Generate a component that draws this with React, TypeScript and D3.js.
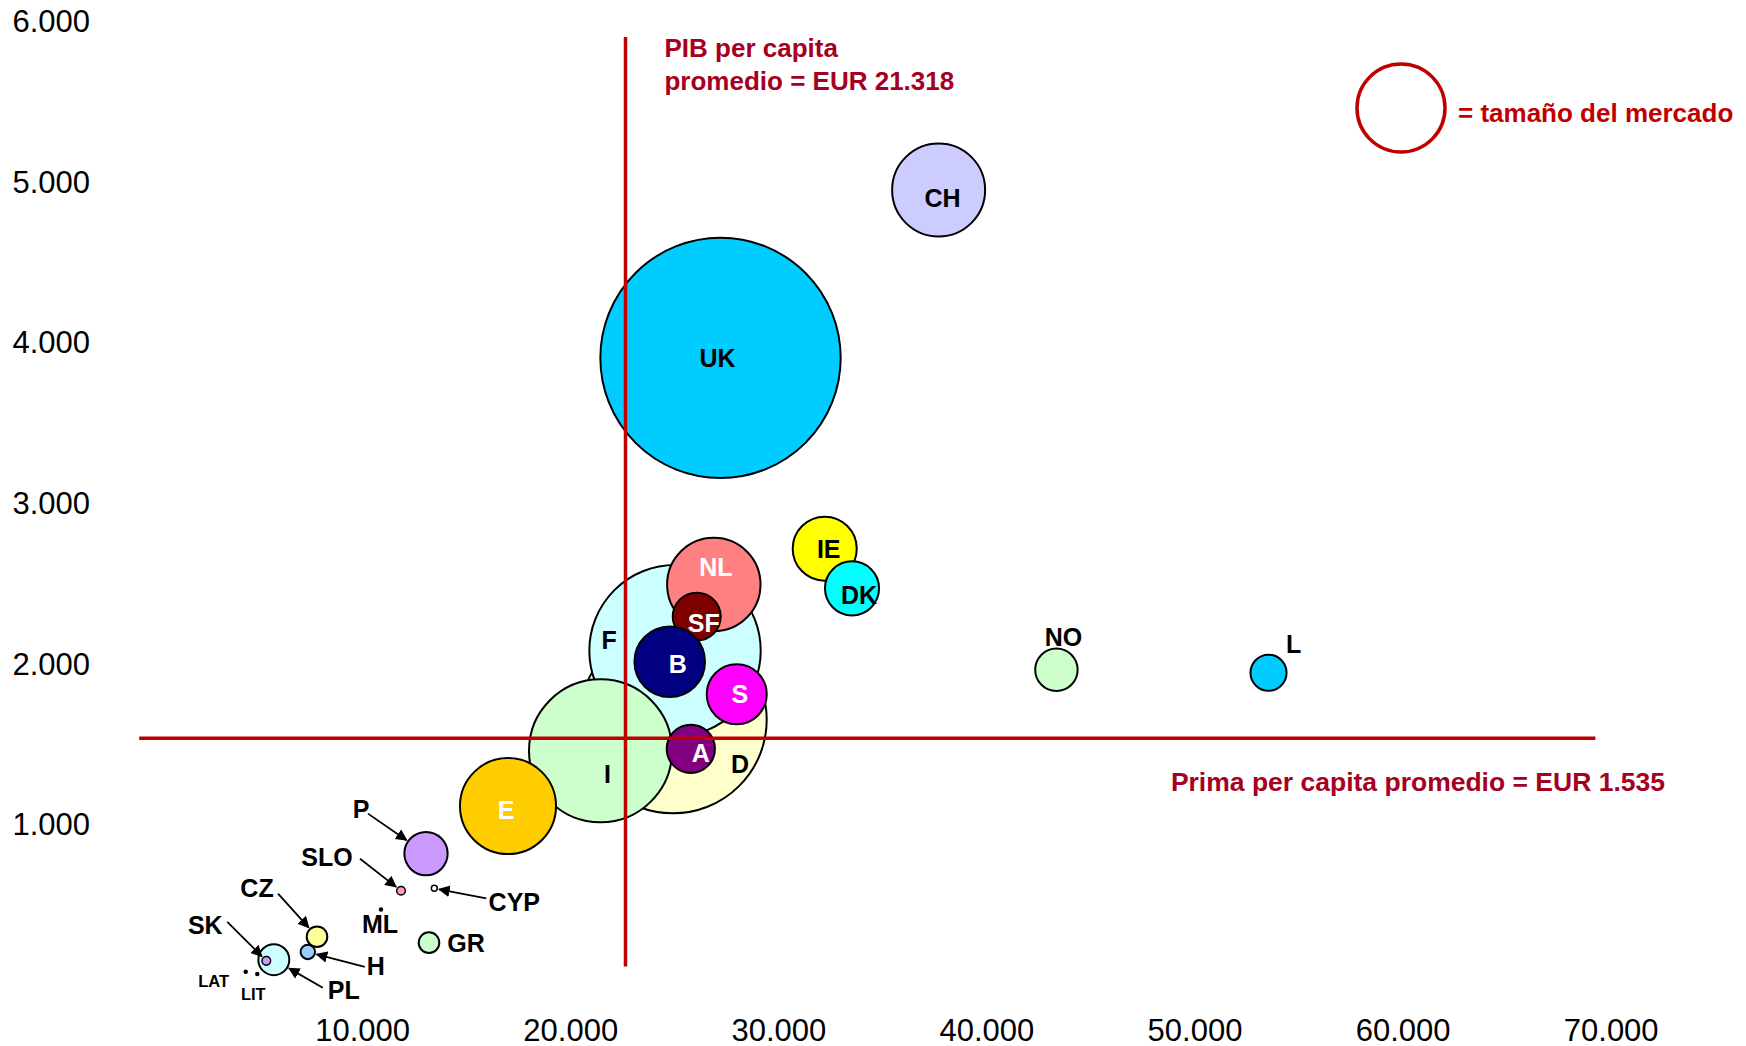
import React, { useEffect, useRef } from 'react';
import * as d3 from 'd3';

// one entry per country, in drawing order (big ones first so the small ones sit on top)
const countries = ['UK', 'CH', 'D', 'F', 'I', 'E', 'NL', 'SF', 'B', 'S', 'A', 'IE', 'DK', 'NO', 'L',
  'P', 'GR', 'CZ', 'H', 'PL', 'SK', 'SLO', 'CYP', 'ML', 'LAT', 'LIT'];
// PIB per capita (EUR)
const gdpPerCapita = [27196, 37678, 24913, 25010, 21429, 16984, 26874, 26053, 24755, 27975, 25769, 32204, 33516, 43339, 53532,
  13043, 13187, 7805, 7363, 5729, 5368, 11842, 13442, 10881, 4378, 4936];
// prima per capita (EUR)
const premiumPerCapita = [3902, 4947, 1651, 2080, 1457, 1113, 2492, 2292, 2011, 1809, 1469, 2715, 2468, 1961, 1943,
  817, 263, 300, 205, 157, 150, 586, 601, 470, 82, 68];
// tamaño del mercado (primas totales, mil millones EUR)
const marketSize = [231, 34.6, 140.5, 117.5, 81.8, 36.9, 34.9, 9.2, 19.9, 14.4, 9.3, 16.4, 11.7, 7.2, 5.2,
  7.5, 1.7, 1.7, 0.83, 3.84, 0.3, 0.3, 0.14, 0.036, 0.036, 0.036];
const fillColors = ['#00CCFF', '#CCCCFF', '#FFFFCC', '#CCFFFF', '#CCFFCC', '#FFCC00', '#FF8080', '#800000', '#000080', '#FF00FF', '#800080', '#FFFF00', '#00FFFF', '#CCFFCC', '#00CCFF',
  '#CC99FF', '#CCFFCC', '#FFFF99', '#99CCFF', '#CCFFFF', '#CC99FF', '#FF99CC', '#FFFFFF', '#000000', '#000000', '#000000'];
const whiteLabels = ['E', 'NL', 'SF', 'B', 'S', 'A'];

const xTicks = [10000, 20000, 30000, 40000, 50000, 60000, 70000];
const yTicks = [1000, 2000, 3000, 4000, 5000, 6000];

const avgGdpLabel = ['PIB per capita', 'promedio = EUR 21.318'];
const avgPremiumLabel = 'Prima per capita promedio = EUR 1.535';
const legendLabel = '= tamaño del mercado';
const legendMarket = 31;
// where the two reference lines are drawn in the original picture (data units)
const gdpLineAt = 22630;
const premiumLineAt = 1535;

// label placement in px relative to the bubble centre; arrow = start of pointer line
const labelLayout: Record<string, { dx: number; dy: number; size?: number; arrow?: [number, number] }> = {
  UK: { dx: -3, dy: 0 }, CH: { dx: 4, dy: 8 }, D: { dx: 67, dy: 44 }, F: { dx: -66, dy: -11 },
  I: { dx: 7, dy: 23 }, E: { dx: -2, dy: 4 }, NL: { dx: 2, dy: -17 }, SF: { dx: 7, dy: 6 },
  B: { dx: 8, dy: 2 }, S: { dx: 3, dy: 0 }, A: { dx: 10, dy: 4 }, IE: { dx: 4, dy: 0 },
  DK: { dx: 7, dy: 7 }, NO: { dx: 7, dy: -33 }, L: { dx: 25, dy: -29 },
  P: { dx: -65, dy: -45, arrow: [-58, -40] },
  GR: { dx: 37, dy: 0 },
  CZ: { dx: -60, dy: -49, arrow: [-39, -43] },
  H: { dx: 68, dy: 14, arrow: [57, 15] },
  PL: { dx: 70, dy: 30, arrow: [49, 28] },
  SK: { dx: -61, dy: -36, arrow: [-39, -39] },
  SLO: { dx: -74, dy: -34, arrow: [-41, -32] },
  CYP: { dx: 80, dy: 14, arrow: [52, 10] },
  ML: { dx: -1, dy: 15 },
  LAT: { dx: -32, dy: 9, size: 16.5 },
  LIT: { dx: -4, dy: 20, size: 16.5 },
};

export default function App() {
  const svgRef = useRef<SVGSVGElement>(null);
  const width = 1746;
  const height = 1046;

  useEffect(() => {
    document.body.style.margin = '0';
    document.body.style.overflow = 'hidden';

    const svg = d3.select(svgRef.current);
    svg.selectAll('*').remove();
    const font = '"Liberation Sans", Arial, sans-serif';

    const x = d3.scaleLinear().domain([0, 70000]).range([154.6, 1611.2]);
    const y = d3.scaleLinear().domain([0, 6000]).range([984.9, 20.8]);
    const r = d3.scaleSqrt().domain([0, 250]).range([0, 125]);
    const fmt = (v: number) => d3.format(',')(v).replace(/,/g, '.');

    svg.append('defs').append('marker')
      .attr('id', 'arrowhead')
      .attr('viewBox', '0 0 10 10')
      .attr('refX', 9).attr('refY', 5)
      .attr('markerWidth', 6.5).attr('markerHeight', 6.5)
      .attr('markerUnits', 'strokeWidth')
      .attr('orient', 'auto')
      .append('path').attr('d', 'M0,0 L10,5 L0,10 Z').attr('fill', '#000');

    // axis labels (no axis lines in the original)
    svg.append('g').selectAll('text').data(yTicks).enter().append('text')
      .attr('x', 90).attr('y', d => y(d)).attr('dy', '0.36em')
      .attr('text-anchor', 'end').attr('font-family', font).attr('font-size', 31)
      .text(d => fmt(d));
    svg.append('g').selectAll('text').data(xTicks).enter().append('text')
      .attr('x', d => x(d)).attr('y', 1041)
      .attr('text-anchor', 'middle').attr('font-family', font).attr('font-size', 31)
      .text(d => fmt(d));

    // bubbles
    const rows = countries.map((c, i) => ({
      c, gx: gdpPerCapita[i], py: premiumPerCapita[i], m: marketSize[i], fill: fillColors[i],
    }));
    svg.append('g').selectAll('circle').data(rows).enter().append('circle')
      .attr('cx', d => x(d.gx)).attr('cy', d => y(d.py)).attr('r', d => r(d.m))
      .attr('fill', d => d.fill).attr('stroke', '#000')
      .attr('stroke-width', d => (r(d.m) < 6 ? 1.5 : 2));

    // reference lines
    svg.append('line')
      .attr('x1', x(gdpLineAt)).attr('x2', x(gdpLineAt))
      .attr('y1', y(5899)).attr('y2', y(115))
      .attr('stroke', '#C00000').attr('stroke-width', 3.5);
    svg.append('line')
      .attr('x1', x(-740)).attr('x2', x(69240))
      .attr('y1', y(premiumLineAt)).attr('y2', y(premiumLineAt))
      .attr('stroke', '#C00000').attr('stroke-width', 3.5);

    // pointer arrows for the small markets
    rows.forEach(d => {
      const lay = labelLayout[d.c];
      if (!lay || !lay.arrow) return;
      const cx = x(d.gx), cy = y(d.py), rad = r(d.m);
      const sx = cx + lay.arrow[0], sy = cy + lay.arrow[1];
      const len = Math.hypot(sx - cx, sy - cy);
      const ex = cx + (sx - cx) / len * (rad + 2);
      const ey = cy + (sy - cy) / len * (rad + 2);
      svg.append('line')
        .attr('x1', sx).attr('y1', sy).attr('x2', ex).attr('y2', ey)
        .attr('stroke', '#000').attr('stroke-width', 1.8)
        .attr('marker-end', 'url(#arrowhead)');
    });

    // bubble labels
    svg.append('g').selectAll('text').data(rows).enter().append('text')
      .attr('x', d => x(d.gx) + labelLayout[d.c].dx)
      .attr('y', d => y(d.py) + labelLayout[d.c].dy)
      .attr('dy', '0.36em')
      .attr('text-anchor', 'middle')
      .attr('font-family', font).attr('font-weight', 'bold')
      .attr('font-size', d => labelLayout[d.c].size || 25)
      .attr('fill', d => (whiteLabels.includes(d.c) ? '#fff' : '#000'))
      .text(d => d.c);

    // annotations
    const gdpText = svg.append('text')
      .attr('font-family', font).attr('font-weight', 'bold').attr('font-size', 26)
      .attr('fill', '#A50021');
    avgGdpLabel.forEach((t, i) => {
      gdpText.append('tspan').attr('x', x(gdpLineAt) + 39).attr('y', 57 + i * 33).text(t);
    });
    svg.append('text')
      .attr('x', 1665).attr('y', 791).attr('text-anchor', 'end')
      .attr('font-family', font).attr('font-weight', 'bold').attr('font-size', 26.5)
      .attr('fill', '#A50021')
      .text(avgPremiumLabel);

    // size legend
    svg.append('circle')
      .attr('cx', 1401).attr('cy', 108).attr('r', r(legendMarket))
      .attr('fill', 'none').attr('stroke', '#C00000').attr('stroke-width', 3.5);
    svg.append('text')
      .attr('x', 1458).attr('y', 122)
      .attr('font-family', font).attr('font-weight', 'bold').attr('font-size', 26)
      .attr('fill', '#C00000')
      .text(legendLabel);
  }, []);

  return (
    <svg ref={svgRef} width={width} height={height}
      style={{ position: 'absolute', left: 0, top: 0, background: 'white' }} />
  );
}
